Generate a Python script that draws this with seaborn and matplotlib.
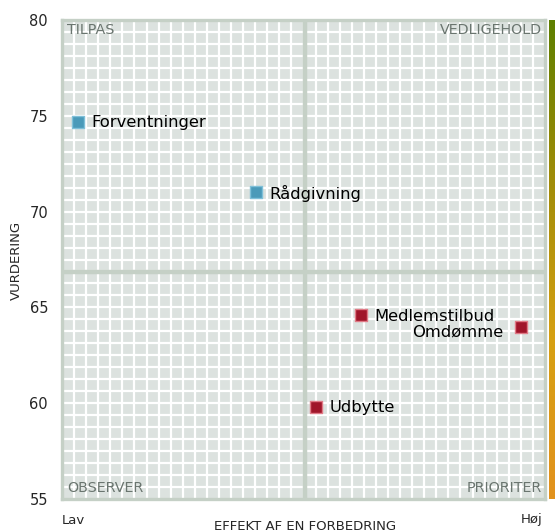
import numpy as np
import pandas as pd
import matplotlib
matplotlib.use("Agg")
import matplotlib.pyplot as plt
import seaborn as sns
from matplotlib.colors import LinearSegmentedColormap

names = ["Forventninger", "Rådgivning", "Medlemstilbud", "Omdømme", "Udbytte"]
effekt = [3.3, 40.2, 61.9, 95.0, 52.6]
vurdering = [74.7, 71.0, 64.6, 64.0, 59.8]
group = ["tilpas", "tilpas", "prioriter", "prioriter", "prioriter"]
y_ticks = [55, 60, 65, 70, 75, 80]
quadrants = ["TILPAS", "VEDLIGEHOLD", "OBSERVER", "PRIORITER"]
x_mid, y_mid = 50.3, 66.85

df = pd.DataFrame({"name": names, "x": effekt, "y": vurdering, "g": group})

sns.set_theme(style="white")
plt.rcParams['font.family'] = ['DejaVu Sans']

W, H = 555, 531
fig = plt.figure(figsize=(W / 100, H / 100), dpi=100)
ax = fig.add_axes([62 / W, (H - 499) / H, 483 / W, 479 / H])
ax.set_facecolor("#dce2df")
ax.set_xlim(0, 100)
ax.set_ylim(55, 80)

# minor white grid
for v in np.linspace(0, 100, 41)[1:-1]:
    ax.axvline(v, color="white", lw=1.6, zorder=0.5)
for v in np.linspace(55, 80, 41)[1:-1]:
    ax.axhline(v, color="white", lw=1.6, zorder=0.5)
ax.axvline(x_mid, color="#c5d0c6", lw=3.2, zorder=0.8)
ax.axhline(y_mid, color="#c5d0c6", lw=3.2, zorder=0.8)

for s in ax.spines.values():
    s.set_color("#c5d0c6")
    s.set_linewidth(2.4)

palette = {"tilpas": "#4a9ab9", "prioriter": "#a0162a"}
edges = {"tilpas": "#7fc0d8", "prioriter": "#e07a86"}
for g in ["tilpas", "prioriter"]:
    sub = df[df.g == g]
    sns.scatterplot(data=sub, x="x", y="y", marker="s", s=75, color=palette[g],
                    edgecolor=edges[g], linewidth=1.0, ax=ax, zorder=3, legend=False)

for n, x, y in zip(names, effekt, vurdering):
    if n == "Omdømme":
        ax.text(x - 3.7, y - 0.3, n, ha="right", va="center", fontsize=11.8, color="black", zorder=4)
    else:
        ax.text(x + 2.8, y - 0.05, n, ha="left", va="center", fontsize=11.8, color="black", zorder=4)

qc = "#6a756f"
ax.text(1.0, 79.85, quadrants[0], ha="left", va="top", fontsize=10.3, color=qc)
ax.text(99.4, 79.85, quadrants[1], ha="right", va="top", fontsize=10.3, color=qc)
ax.text(1.0, 55.2, quadrants[2], ha="left", va="bottom", fontsize=10.3, color=qc)
ax.text(99.4, 55.2, quadrants[3], ha="right", va="bottom", fontsize=10.3, color=qc)

ax.set_yticks(y_ticks)
ax.set_yticklabels([str(t) for t in y_ticks], fontsize=10.5)
ax.tick_params(axis="y", length=0, pad=10)
ax.set_xticks([])
ax.set_ylabel("VURDERING", fontsize=9.5)
ax.yaxis.set_label_coords((23 - 62) / 483, (499 - 260) / 479)
ax.set_xlabel("")
fig.text(62 / W, 1 - 521 / H, "Lav", ha="left", va="center", fontsize=9.5)
fig.text(543 / W, 1 - 519 / H, "Høj", ha="right", va="center", fontsize=9.5)
fig.text(305 / W, 1 - 526 / H, "EFFEKT AF EN FORBEDRING", ha="center", va="center", fontsize=9.5)

# gradient bar
cax = fig.add_axes([549 / W, (H - 499) / H, 8 / W, 479 / H])
cmap = LinearSegmentedColormap.from_list("g", ["#5e7f00", "#a08c08", "#d6a012", "#e2921e"])
cax.imshow(np.linspace(0, 1, 256).reshape(-1, 1), aspect="auto", cmap=cmap)
cax.axis("off")

fig.savefig("out.png", dpi=100)
